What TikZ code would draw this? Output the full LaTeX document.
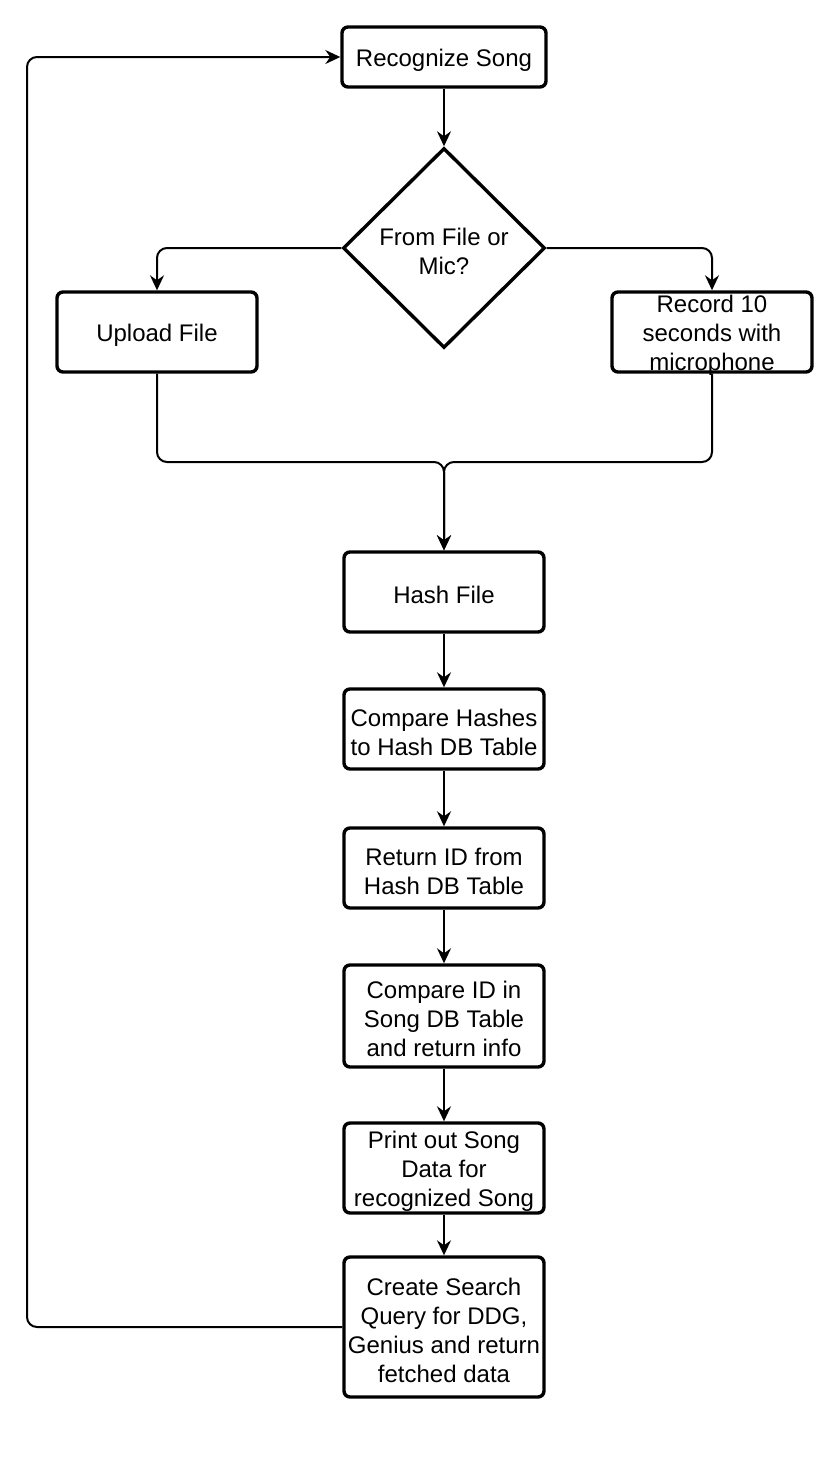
\documentclass[tikz,border=0pt]{standalone}
\usepackage{fontspec}
\setmainfont{Liberation Sans}
\usetikzlibrary{shapes.geometric,arrows.meta}
\begin{document}
\begin{tikzpicture}[x=0.5pt,y=-0.5pt,
  fnt/.style={font=\fontsize{12}{14.5}\selectfont},
  txt/.style={align=center,inner sep=0pt,fnt,yshift=-1.5pt},
  box/.style={draw,line width=1.7pt,rounded corners=3pt,minimum width=100pt,minimum height=40pt,inner sep=0pt},
  dec/.style={draw,diamond,line width=1.7pt,minimum width=101pt,minimum height=100pt,inner sep=0pt},
  conn/.style={line width=1pt,rounded corners=5pt},
  arr/.style={conn,-{Stealth[length=7.5pt,width=7pt,inset=2.5pt]}}]
\useasboundingbox (0,0) rectangle (830,1462);
\node[box,minimum width=102pt,minimum height=30pt,label={[txt]center:{Recognize Song}}] (rs) at (444,57) {};
\node[dec,label={[txt]center:{From File or\\Mic?}}] (d) at (444,248) {};
\node[box,label={[txt]center:{Upload File}}] (up) at (157,332) {};
\node[box,label={[txt]center:{Record 10\\seconds with\\microphone}}] (rec) at (712,332) {};
\node[box,label={[txt]center:{Hash File}}] (hf) at (444,592) {};
\node[box,label={[txt]center:{Compare Hashes\\to Hash DB Table}}] (ch) at (444,729) {};
\node[box,label={[txt]center:{Return ID from\\Hash DB Table}}] (ri) at (444,868) {};
\node[box,minimum height=51pt,label={[txt]center:{Compare ID in\\Song DB Table\\and return info}}] (ci) at (444,1016) {};
\node[box,minimum height=45pt,label={[txt]center:{Print out Song\\Data for\\recognized Song}}] (po) at (444,1168) {};
\node[box,minimum height=70pt,label={[txt]center:{Create Search\\Query for DDG,\\Genius and return\\fetched data}}] (cs) at (444,1327) {};
\coordinate (m) at (444,462);
\coordinate (lx) at (27,0);
\draw[arr] (rs) -- (d);
\draw[arr] (d.west) -| (up.north);
\draw[arr] (d.east) -| (rec.north);
\draw[arr] (up.south) |- (m) -- (hf.north);
\draw[arr] (rec.south) |- (m) -- (hf.north);
\draw[arr] (hf) -- (ch);
\draw[arr] (ch) -- (ri);
\draw[arr] (ri) -- (ci);
\draw[arr] (ci) -- (po);
\draw[arr] (po) -- (cs);
\draw[arr] (cs.west) -- (cs.west -| lx) -- (rs.west -| lx) -- (rs.west);
\end{tikzpicture}
\end{document}
